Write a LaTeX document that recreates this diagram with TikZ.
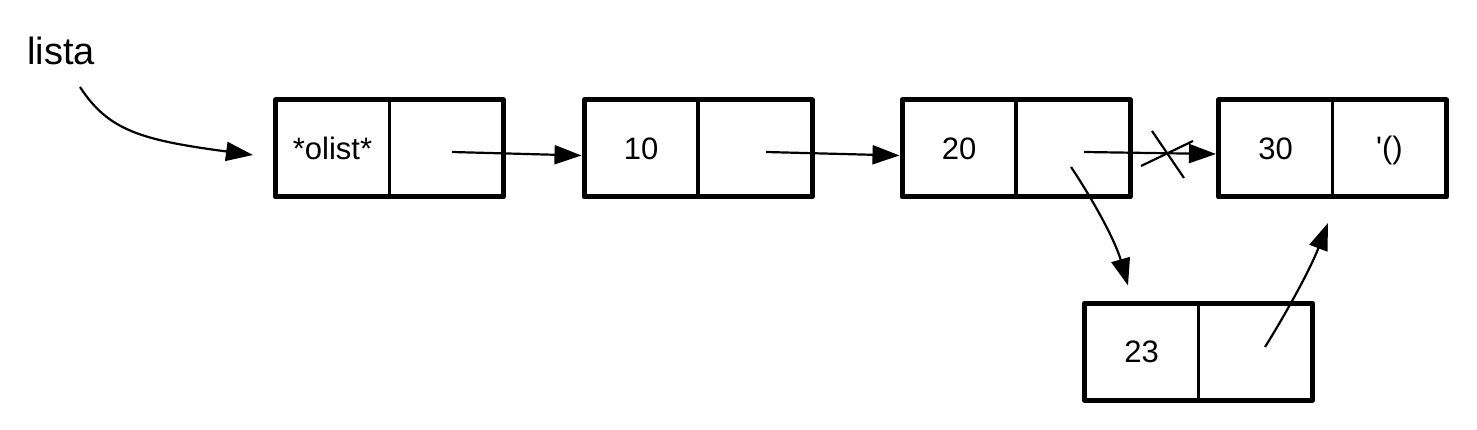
\documentclass[tikz,border=0pt]{standalone}
\usepackage{fontspec}
\setmainfont{Liberation Sans}
\newfontfamily\rawfont{Liberation Sans}
\usetikzlibrary{arrows.meta,calc}
\begin{document}
\begin{tikzpicture}[x=1pt,y=-1pt,
  cell/.style={draw, line width=5pt, line join=round, minimum width=228pt, minimum height=97pt, inner sep=0pt},
  divider/.style={line width=3.2pt},
  val/.style={font=\fontsize{31}{36}\selectfont, inner sep=0pt},
  big/.style={font=\fontsize{38}{44}\selectfont, inner sep=0pt},
  arr/.style={line width=2.2pt, -{Triangle[length=27pt,width=19pt]}},
  cross/.style={line width=2.2pt}]
\useasboundingbox (0,0) rectangle (1477,430);
% cells
\node[cell] (c0) at (389.5,148.5) {};
\node[cell] (c1) at (698,148.5) {};
\node[cell] (c2) at (1016,148.5) {};
\node[cell] (c3) at (1332.5,148.5) {};
\node[cell] (c4) at (1198.5,351.5) {};
\foreach \c in {c0,c1,c2,c3,c4}{\draw[divider] (\c.north) -- (\c.south);}
% labels
\node[val] (t0) at ($(c0.center)+(-57,0)$) {*olist*};
\node[val] (t1) at ($(c1.center)+(-57,0)$) {10};
\node[val] (t2) at ($(c2.center)+(-57,0)$) {20};
\node[val] (t3) at ($(c3.center)+(-57,0)$) {30};
\node[val] (n3) at ($(c3.center)+(57,2)$) {\rawfont '()};
\node[val] (t4) at ($(c4.center)+(-57,0)$) {23};
\node[big, anchor=base west] (lista) at (27,65) {lista};
% pointer origins
\coordinate (s0) at (80,87);
\coordinate (e0) at (253,155);
\coordinate (p0) at (452,152);
\coordinate (p1) at (766,152);
\coordinate (p2) at (1084,152);
\coordinate (q2) at (1071,167);
\coordinate (q4) at (1265,347);
\coordinate (e4) at (1328,223);
% arrows
\draw[arr] (s0) .. controls (108,130) and (140,140) .. (e0);
\draw[arr] (p0) -- ($(c1.west)+(0,7)$);
\draw[arr] (p1) -- ($(c2.west)+(0,7)$);
\draw[arr] (p2) -- ($(c3.west)+(0,5.5)$);
\draw[arr] (q2) .. controls (1093,200) and (1115,240) .. ($(c4.north)+(-70.5,-15)$);
\draw[arr] (q4) .. controls (1285,315) and (1310,270) .. (e4);
% crossing out
\coordinate (x1a) at (1152,131);
\coordinate (x1b) at (1184,178);
\coordinate (x2a) at (1141,166);
\coordinate (x2b) at (1193,141);
\draw[cross] (x1a) -- (x1b);
\draw[cross] (x2a) -- (x2b);
\end{tikzpicture}
\end{document}
